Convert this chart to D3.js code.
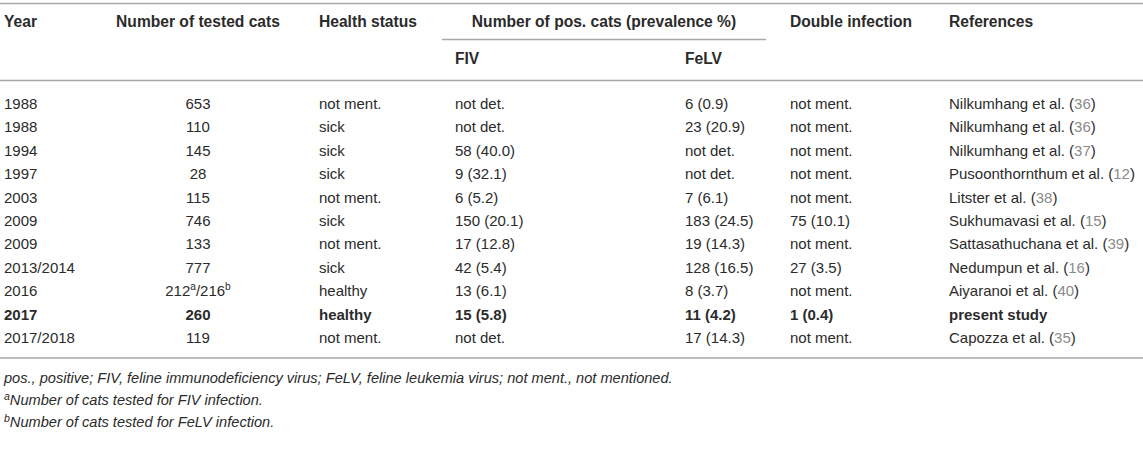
<!DOCTYPE html>
<html><head><meta charset="utf-8">
<script src="https://cdn.jsdelivr.net/npm/d3@7"></script>
<style>
html,body{margin:0;padding:0;background:#fff;}
svg{display:block;font-family:"Liberation Sans",Arial,Helvetica,sans-serif;}
</style></head>
<body>
<svg id="t" width="1143" height="453"></svg>
<script>
// ---- data ----
const years = ["1988","1988","1994","1997","2003","2009","2009","2013/2014","2016","2017","2017/2018"];
const testedCats = ["653","110","145","28","115","746","133","777","212a/216b","260","119"];
const healthStatus = ["not ment.","sick","sick","sick","not ment.","sick","not ment.","sick","healthy","healthy","not ment."];
const fivPos = ["not det.","not det.","58 (40.0)","9 (32.1)","6 (5.2)","150 (20.1)","17 (12.8)","42 (5.4)","13 (6.1)","15 (5.8)","not det."];
const felvPos = ["6 (0.9)","23 (20.9)","not det.","not det.","7 (6.1)","183 (24.5)","19 (14.3)","128 (16.5)","8 (3.7)","11 (4.2)","17 (14.3)"];
const doubleInf = ["not ment.","not ment.","not ment.","not ment.","not ment.","75 (10.1)","not ment.","27 (3.5)","not ment.","1 (0.4)","not ment."];
const refAuthors = ["Nilkumhang et al.","Nilkumhang et al.","Nilkumhang et al.","Pusoonthornthum et al.","Litster et al.","Sukhumavasi et al.","Sattasathuchana et al.","Nedumpun et al.","Aiyaranoi et al.","present study","Capozza et al."];
const refNums = ["36","36","37","12","38","15","39","16","40","","35"];
const boldRow = 9;
const headers1 = ["Year","Number of tested cats","Health status","Number of pos. cats (prevalence %)","Double infection","References"];
const headers2 = ["FIV","FeLV"];
const footnotes = [
  {sup:"", text:"pos., positive; FIV, feline immunodeficiency virus; FeLV, feline leukemia virus; not ment., not mentioned."},
  {sup:"a", text:"Number of cats tested for FIV infection."},
  {sup:"b", text:"Number of cats tested for FeLV infection."}
];

// ---- layout ----
const W = 1143;
const svg = d3.select("#t");
const txt = "#2b2b2b", rule = "#a8a8a8", refCol = "#8a8a8a";
const fs = 15, hfs = 15.6;

const col = {year:4, tested:198, health:319, fiv:455, felv:685, dbl:790, ref:949};
const rows = d3.range(years.length);
const y = d3.scaleBand().domain(rows).range([92, 92 + 23.4*years.length]);

// rules
const hline = (x1,x2,yy,w) => svg.append("line").attr("x1",x1).attr("x2",x2).attr("y1",yy).attr("y2",yy)
  .attr("stroke",rule).attr("stroke-width",w||1.5);
hline(0,W,3.5);
hline(442,766,39.5);
hline(0,W,80.5);
const bottomY = y(years.length-1) + y.bandwidth() + 8.5;
hline(0,W,bottomY);

// header
const hg = svg.append("g").attr("font-weight","bold").attr("font-size",hfs).attr("fill",txt);
const h1y = 27;
hg.append("text").attr("x",col.year).attr("y",h1y).text(headers1[0]);
hg.append("text").attr("x",col.tested).attr("y",h1y).attr("text-anchor","middle").text(headers1[1]);
hg.append("text").attr("x",col.health).attr("y",h1y).text(headers1[2]);
hg.append("text").attr("x",604).attr("y",h1y).attr("text-anchor","middle").text(headers1[3]);
hg.append("text").attr("x",col.dbl).attr("y",h1y).text(headers1[4]);
hg.append("text").attr("x",col.ref).attr("y",h1y).text(headers1[5]);
const h2y = 64;
hg.append("text").attr("x",col.fiv).attr("y",h2y).text(headers2[0]);
hg.append("text").attr("x",col.felv).attr("y",h2y).text(headers2[1]);

// body
const body = svg.append("g").attr("font-size",fs).attr("fill",txt);
const rg = body.selectAll("g.row").data(rows).join("g").attr("class","row")
  .attr("transform",i=>`translate(0,${y(i)+y.bandwidth()/2+5.3})`)
  .attr("font-weight",i=>i===boldRow?"bold":null);

rg.append("text").attr("x",col.year).text(i=>years[i]);
rg.append("text").attr("x",col.tested).attr("text-anchor","middle").each(function(i){
  const t = d3.select(this);
  const m = testedCats[i].match(/^(\d+)([a-z])\/(\d+)([a-z])$/);
  if(m){
    t.append("tspan").text(m[1]);
    t.append("tspan").attr("font-size",fs*0.68).attr("dy",-6).text(m[2]);
    t.append("tspan").attr("dy",6).text("/"+m[3]);
    t.append("tspan").attr("font-size",fs*0.68).attr("dy",-6).text(m[4]);
  } else t.text(testedCats[i]);
});
rg.append("text").attr("x",col.health).text(i=>healthStatus[i]);
rg.append("text").attr("x",col.fiv).text(i=>fivPos[i]);
rg.append("text").attr("x",col.felv).text(i=>felvPos[i]);
rg.append("text").attr("x",col.dbl).text(i=>doubleInf[i]);
rg.append("text").attr("x",col.ref).each(function(i){
  const t = d3.select(this);
  t.append("tspan").text(refAuthors[i] + (refNums[i] ? " (" : ""));
  if(refNums[i]){
    t.append("tspan").attr("fill",refCol).text(refNums[i]);
    t.append("tspan").text(")");
  }
});

// footnotes
const fg = svg.append("g").attr("font-size",14.6).attr("font-style","italic").attr("fill",txt);
const fy = d3.scalePoint().domain(d3.range(footnotes.length)).range([bottomY+25, bottomY+69]);
fg.selectAll("text").data(footnotes).join("text")
  .attr("x",col.year).attr("y",(d,i)=>fy(i))
  .each(function(d){
    const t = d3.select(this);
    if(d.sup){
      t.append("tspan").attr("font-size",10.5).attr("dy",-5).text(d.sup);
      t.append("tspan").attr("dy",5).text(d.text);
    } else t.text(d.text);
  });
</script>
</body></html>
